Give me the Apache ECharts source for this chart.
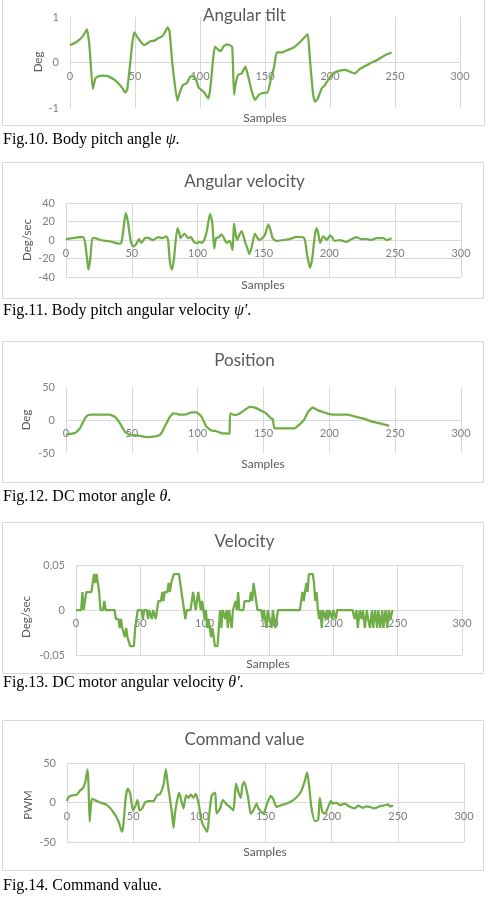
<!DOCTYPE html>
<html>
<head>
<meta charset="utf-8">
<script src="https://cdn.jsdelivr.net/npm/echarts@6/dist/echarts.min.js"></script>
<style>
  html, body { margin: 0; padding: 0; background: #fff; }
  #chart { width: 489px; height: 905px; }
</style>
</head>
<body>
<div id="chart"></div>
<script>
// Fig.10 angular tilt
const tiltX = [0, 5, 10, 13, 15, 17.5, 19.5, 22, 26, 30, 35, 40, 42.5, 44, 46, 48, 49.5, 52, 54, 57, 60, 62, 65, 67, 71, 73, 75, 76.5, 79, 82.6, 84, 86.7, 90, 92.3, 95, 97, 99, 103, 106.4, 108, 110, 111.5, 114, 116, 118, 120.5, 123, 124.8, 126.2, 127.5, 129.5, 132, 135, 137, 140, 142.3, 145.6, 150, 152, 155, 157, 159, 163, 167, 172, 177, 182, 183, 184.6, 187, 188.5, 190.5, 193.6, 196, 201.3, 205, 211.5, 215, 219.2, 223, 230.8, 235.9, 242.3, 247.4];
const tiltY = [0.38, 0.45, 0.58, 0.73, 0.35, -0.58, -0.35, -0.3, -0.29, -0.31, -0.4, -0.55, -0.66, -0.6, -0.1, 0.45, 0.66, 0.55, 0.47, 0.38, 0.43, 0.47, 0.48, 0.52, 0.58, 0.66, 0.77, 0.7, -0.1, -0.84, -0.7, -0.5, -0.45, -0.32, -0.3, -0.38, -0.55, -0.65, -0.79, -0.55, 0.05, 0.35, 0.28, 0.25, 0.35, 0.4, 0.38, 0.34, -0.71, -0.45, -0.27, -0.24, -0.09, -0.3, -0.65, -0.82, -0.7, -0.66, -0.66, -0.3, -0.1, 0.22, 0.22, 0.27, 0.33, 0.45, 0.6, 0.62, 0.05, -0.7, -0.86, -0.8, -0.57, -0.5, -0.27, -0.2, -0.16, -0.2, -0.24, -0.14, -0.02, 0.05, 0.16, 0.22];

// Fig.11 angular velocity
const angX = [0, 5, 10, 13, 14.5, 16, 17, 18.5, 20, 22, 26, 30, 35, 40, 42, 43.5, 45.3, 47, 49, 51, 53, 55.5, 57, 60.7, 63, 66, 70, 73, 76, 77.5, 79, 80.5, 82, 84.6, 86, 87, 90, 92.7, 95, 97, 99.3, 101, 103, 105, 107, 109.4, 111, 112.6, 114, 116, 118, 120, 122, 124.5, 126.5, 127.6, 129, 130, 131.5, 133.4, 136, 138, 139.2, 141, 143.5, 145, 147, 149, 151, 153.7, 155.5, 157, 160, 165, 170, 175.2, 180, 181.5, 183, 185.3, 187, 189, 190.3, 191.5, 193, 195.4, 198, 200.5, 202, 204, 208, 213, 217, 220.8, 224, 228.4, 232, 236, 241, 243.6, 247.3];
const angY = [1, 2, 3, 3, -3, -20, -32, -20, 2, 2, 0, -1, -2, -4, -3, 10, 29, 20, 0, -7, -5, 1, -3, 2.5, 2, 0, 3, 2, 4, 0, -25, -32, -20, 12.5, 8, 2, 7, 2, 3, -2, -3.5, -2, -3, 0, 10, 28, 20, -9, 2, 3, 6, 2, -3, -1, -11, 18, 5, 0, 5, 9.5, -2, -10, -15, -8, 7, 3, 0, 2, 5, 17, 10, 2, -1, 0, 1, 3.5, 3, 0, -15, -30, -20, 5, 12.5, 8, -3, 4, 0, 5, 3, -1, 0, -2, 1, 3, 1, 1, 0, 2, 2, 0, 2];

// Fig.12 position
const posX = [0, 3, 6.5, 8, 10.6, 13, 15, 16.9, 20, 25, 30, 33.3, 37, 41, 44.7, 48.5, 52, 56, 61, 64, 67.4, 71.2, 73, 75, 79, 81.3, 84, 86.4, 91.4, 95.2, 99, 101, 103, 106.6, 110.4, 114.3, 118, 123.7, 124.2, 124.7, 128, 132, 135.6, 139.4, 142, 144.4, 149.5, 152, 155.8, 157, 158.3, 165, 173.5, 177, 181, 184, 187.3, 191, 196, 200, 205, 213.9, 220, 226, 232.8, 240, 245.5];
const posY = [-22.7, -21, -20, -18, -12.6, -3, 4, 7.6, 8, 8, 8, 8, 5, -5, -17.7, -22.7, -23, -24, -26, -25.5, -25, -22.7, -18, -10, 5, 10, 9.5, 8, 8.5, 11.6, 11.6, 9, 5, -10, -16, -17, -20, -20.5, -20, 10, 7.5, 10, 15, 20, 19.5, 18, 13, 10, 2.5, 1.5, -12.6, -12.6, -12.6, -7.5, 1, 12.6, 19, 15, 11.6, 9, 8, 8, 5, 2, -2.5, -6, -9];

// Fig.13 motor velocity
const velX = [0, 4, 5, 6, 7, 8, 12, 13, 14, 15, 16, 17, 18, 19, 21, 22, 23, 30, 31, 33, 34, 35, 36, 38, 39, 40, 41, 42, 45, 46, 47, 48, 51, 52, 53, 55, 56, 57, 59, 60, 62, 63, 64, 66, 67, 68, 69, 71, 72, 73, 74, 76, 80, 81, 82, 83, 84, 85, 86, 89, 90, 91, 92, 93, 94, 95, 96, 97, 98, 99, 100, 101, 102, 103, 104, 105, 106, 107, 108, 110, 111, 112, 113, 114, 116, 117, 118, 119, 121, 122, 124, 125, 126, 127, 130, 131, 135, 136, 137, 138, 139, 140, 141, 144, 145, 146, 148, 149, 152, 153, 155, 156, 157, 174, 175, 176, 177, 178, 179, 180, 181, 184, 185, 186, 187, 188, 189, 190, 191, 192, 194, 195, 196, 197, 199, 200, 202, 203, 215, 216.5, 218, 219, 220.5, 222, 223, 224.5, 226, 227, 228.5, 230, 231, 232.5, 234, 235, 236.5, 238, 239, 240.5, 242, 243, 244.5, 246];
const velY = [0, 0, 0.02, 0, 0, 0.02, 0.02, 0.03, 0.04, 0.03, 0.04, 0.04, 0.02, 0, 0, 0.01, 0, 0, -0.01, -0.01, -0.02, -0.01, -0.02, -0.03, -0.02, -0.03, -0.03, -0.04, -0.04, -0.02, -0.01, 0, 0, -0.01, 0, 0, -0.01, 0, -0.01, 0, -0.01, 0, 0.01, 0.01, 0.02, 0.01, 0.02, 0.02, 0.03, 0.02, 0.03, 0.04, 0.04, 0.03, 0.02, 0.01, 0, -0.01, 0, 0, 0.01, 0.02, 0.01, 0, 0.01, 0.02, 0.01, 0, 0.01, 0, -0.01, 0, -0.02, -0.01, -0.02, -0.03, -0.02, -0.03, -0.04, -0.04, -0.02, 0, -0.02, 0, -0.01, 0, -0.02, 0, -0.02, 0, 0.01, 0, 0.02, 0, 0, 0.01, 0.01, 0.02, 0.01, 0.03, 0.02, 0.01, 0, 0, -0.01, 0, -0.02, 0, -0.02, 0, -0.02, -0.02, 0, 0, 0.01, 0.02, 0.01, 0.02, 0.03, 0.02, 0.04, 0.04, 0.03, 0.01, 0.02, 0, -0.01, 0, -0.02, 0, -0.01, 0, -0.01, 0, -0.01, 0, -0.01, 0, 0, -0.01, 0, -0.02, 0, -0.01, 0, -0.02, 0, -0.01, -0.02, 0, -0.02, 0, -0.02, 0, -0.02, 0, -0.02, 0, -0.02, 0, -0.01, 0];

// Fig.14 command value
const cmdX = [0, 1.2, 3.8, 7.5, 10, 12, 13.8, 15.6, 16.3, 17.1, 17.8, 18.9, 21, 25, 30, 35, 39, 41.5, 42.5, 44, 45.3, 46, 47.8, 49.8, 51.5, 53.3, 54.8, 56.6, 59, 61.6, 65.4, 67.9, 70.4, 72.9, 74.7, 76, 79.2, 80.5, 81.5, 83, 84.7, 86.7, 88, 90, 91.8, 93.5, 95.5, 97.3, 99.3, 101.8, 104, 106, 107.5, 109.4, 112, 113, 115.7, 117.7, 120.7, 123, 125.7, 127.7, 129.5, 131.3, 132.5, 134, 137, 138.8, 140.8, 143.3, 144.6, 148.4, 150.9, 153.9, 155.9, 158.4, 162, 166, 171, 174.8, 177.3, 179.8, 181.5, 183, 184.8, 187.3, 189.8, 191, 193, 195, 197.4, 199.4, 201, 203.7, 206, 210, 213.7, 217.5, 220, 223.8, 226, 228.8, 231, 233.8, 236, 238.9, 242.6, 244, 246.4];
const cmdY = [1.7, 7, 9, 10, 15.5, 18, 26, 42, 20, -24, -10, 5, 3, 0, -3, -12, -24, -37, -30, 0, 15.5, 17.6, 11, -10, -5, 3, -10, -8, 0, 1.7, 1.7, 9, 11, 22, 42, 25, -12, -32, -15, 1, 12.6, 0, -7.5, 9, 6, 10, 6, 11, 0, -24, -32, -37, -15, 9, 12.6, -14, -7.5, 3, -2.5, -5.5, -10, 24, 13.4, 6, 21, 26, 5, -14, -10, -1.3, -7.5, -14, -3, 8.4, 4, -5.5, -3.4, -1.3, 3, 9, 15.5, 28, 38, 20, -7.5, -23.5, -22, 6, -12, -14, -5.5, 1.7, -1.3, 0, -3.4, -1.3, -5.5, -7.5, -4, -6.7, -5, -5.5, -7, -6.7, -5, -4, -2.5, -5, -4];

const titles = ['Angular tilt', 'Angular velocity', 'Position', 'Velocity', 'Command value'];
const yNames = ['Deg', 'Deg/sec', 'Deg', 'Deg/sec', 'PWM'];
const captions = [
  'Fig.10. Body pitch angle {i|ψ}.',
  'Fig.11. Body pitch angular velocity {i|ψ\'}.',
  'Fig.12. DC motor angle {i|θ}.',
  'Fig.13. DC motor angular velocity {i|θ\'}.',
  'Fig.14. Command value.'
];

const GREEN = '#70ad47';
const GRID = '#d9d9d9';
const TXT = '#595959';

// layout of each panel (pixels)
const panels = [
  { grid: { left: 70, top: 17, width: 390, height: 91 }, box: [2, -2, 482, 127], title: 7, samples: [265, 118], yname: [38, 62], caption: 140, ymin: -1, ymax: 1, step: 1, hLines: false },
  { grid: { left: 66, top: 203, width: 395, height: 74 }, box: [2, 162, 481, 136], title: 173, samples: [263, 285], yname: [27, 240], caption: 311, ymin: -40, ymax: 40, step: 20, hLines: true },
  { grid: { left: 66, top: 387, width: 395, height: 66 }, box: [2, 341, 481, 141], title: 352, samples: [263, 464], yname: [26, 420], caption: 497, ymin: -50, ymax: 50, step: 50, hLines: false },
  { grid: { left: 76, top: 565, width: 386, height: 90 }, box: [2, 522, 481, 151], title: 533, samples: [268, 664], yname: [26, 617], caption: 683, ymin: -0.05, ymax: 0.05, step: 0.05, hLines: true },
  { grid: { left: 67, top: 763, width: 397, height: 79 }, box: [2, 720, 481, 150], title: 731, samples: [265, 852], yname: [28, 805], caption: 886, ymin: -50, ymax: 50, step: 50, hLines: true }
];

const seriesData = [
  [tiltX, tiltY, 0.15],
  [angX, angY, 0.2],
  [posX, posY, 0.1],
  [velX, velY, 0],
  [cmdX, cmdY, 0.2]
];

function zip(xs, ys) {
  return xs.map((x, i) => [x, ys[i]]);
}

let myChart = echarts.init(document.getElementById('chart'));

let graphics = [];
panels.forEach((p, i) => {
  graphics.push({
    type: 'rect',
    shape: { x: p.box[0] + 0.5, y: p.box[1] + 0.5, width: p.box[2], height: p.box[3] },
    style: { fill: 'none', stroke: GRID, lineWidth: 1 },
    z: 0
  });
  graphics.push({
    type: 'text',
    x: p.samples[0], y: p.samples[1],
    style: { text: 'Samples', font: '12px Lato', fill: TXT, textAlign: 'center', textVerticalAlign: 'middle' }
  });
  graphics.push({
    type: 'text',
    x: p.yname[0], y: p.yname[1],
    rotation: Math.PI / 2,
    style: { text: yNames[i], font: '11.5px Lato', fill: TXT, textAlign: 'center', textVerticalAlign: 'middle' }
  });
  graphics.push({
    type: 'text',
    x: 3, y: p.caption,
    style: {
      text: captions[i],
      font: '16px "Liberation Serif"',
      fill: '#000',
      textAlign: 'left',
      textVerticalAlign: 'middle',
      rich: { i: { fontStyle: 'italic', fontFamily: 'Liberation Serif', fontSize: 16, fill: '#000' } }
    }
  });
});

let option = {
  animation: false,
  backgroundColor: '#fff',
  title: panels.map((p, i) => ({
    text: titles[i],
    left: 'center',
    top: p.title,
    padding: 0,
    textStyle: { color: TXT, fontFamily: 'Lato', fontSize: 17, fontWeight: 'normal' }
  })),
  grid: panels.map(p => p.grid),
  // x axis sits on the zero line of each panel (all ranges are symmetric)
  xAxis: panels.map((p, i) => ({
    type: 'value',
    gridIndex: i,
    min: 0,
    max: 300,
    interval: 50,
    offset: -p.grid.height / 2,
    axisLine: { show: true, onZero: false, lineStyle: { color: GRID } },
    axisTick: { show: false },
    axisLabel: { color: '#7f7f7f', fontFamily: 'Lato', fontSize: 11, margin: 8 },
    splitLine: { show: true, lineStyle: { color: GRID } }
  })),
  yAxis: panels.map((p, i) => ({
    type: 'value',
    gridIndex: i,
    min: p.ymin,
    max: p.ymax,
    interval: p.step,
    axisLine: { show: false },
    axisTick: { show: false },
    axisLabel: {
      color: '#7f7f7f',
      fontFamily: 'Lato',
      fontSize: 11,
      margin: 11,
      formatter: v => {
        if (Math.abs(v) < 1e-9) return '0';
        return i === 3 ? v.toFixed(2).replace('.', ',') : String(v);
      }
    },
    splitLine: { show: p.hLines, lineStyle: { color: GRID } }
  })),
  series: seriesData.map((d, i) => ({
    type: 'line',
    xAxisIndex: i,
    yAxisIndex: i,
    data: zip(d[0], d[1]),
    smooth: d[2],
    showSymbol: false,
    lineStyle: { color: GREEN, width: 2.25 },
    itemStyle: { color: GREEN }
  })),
  graphic: graphics
};

myChart.setOption(option);
</script>
</body>
</html>
